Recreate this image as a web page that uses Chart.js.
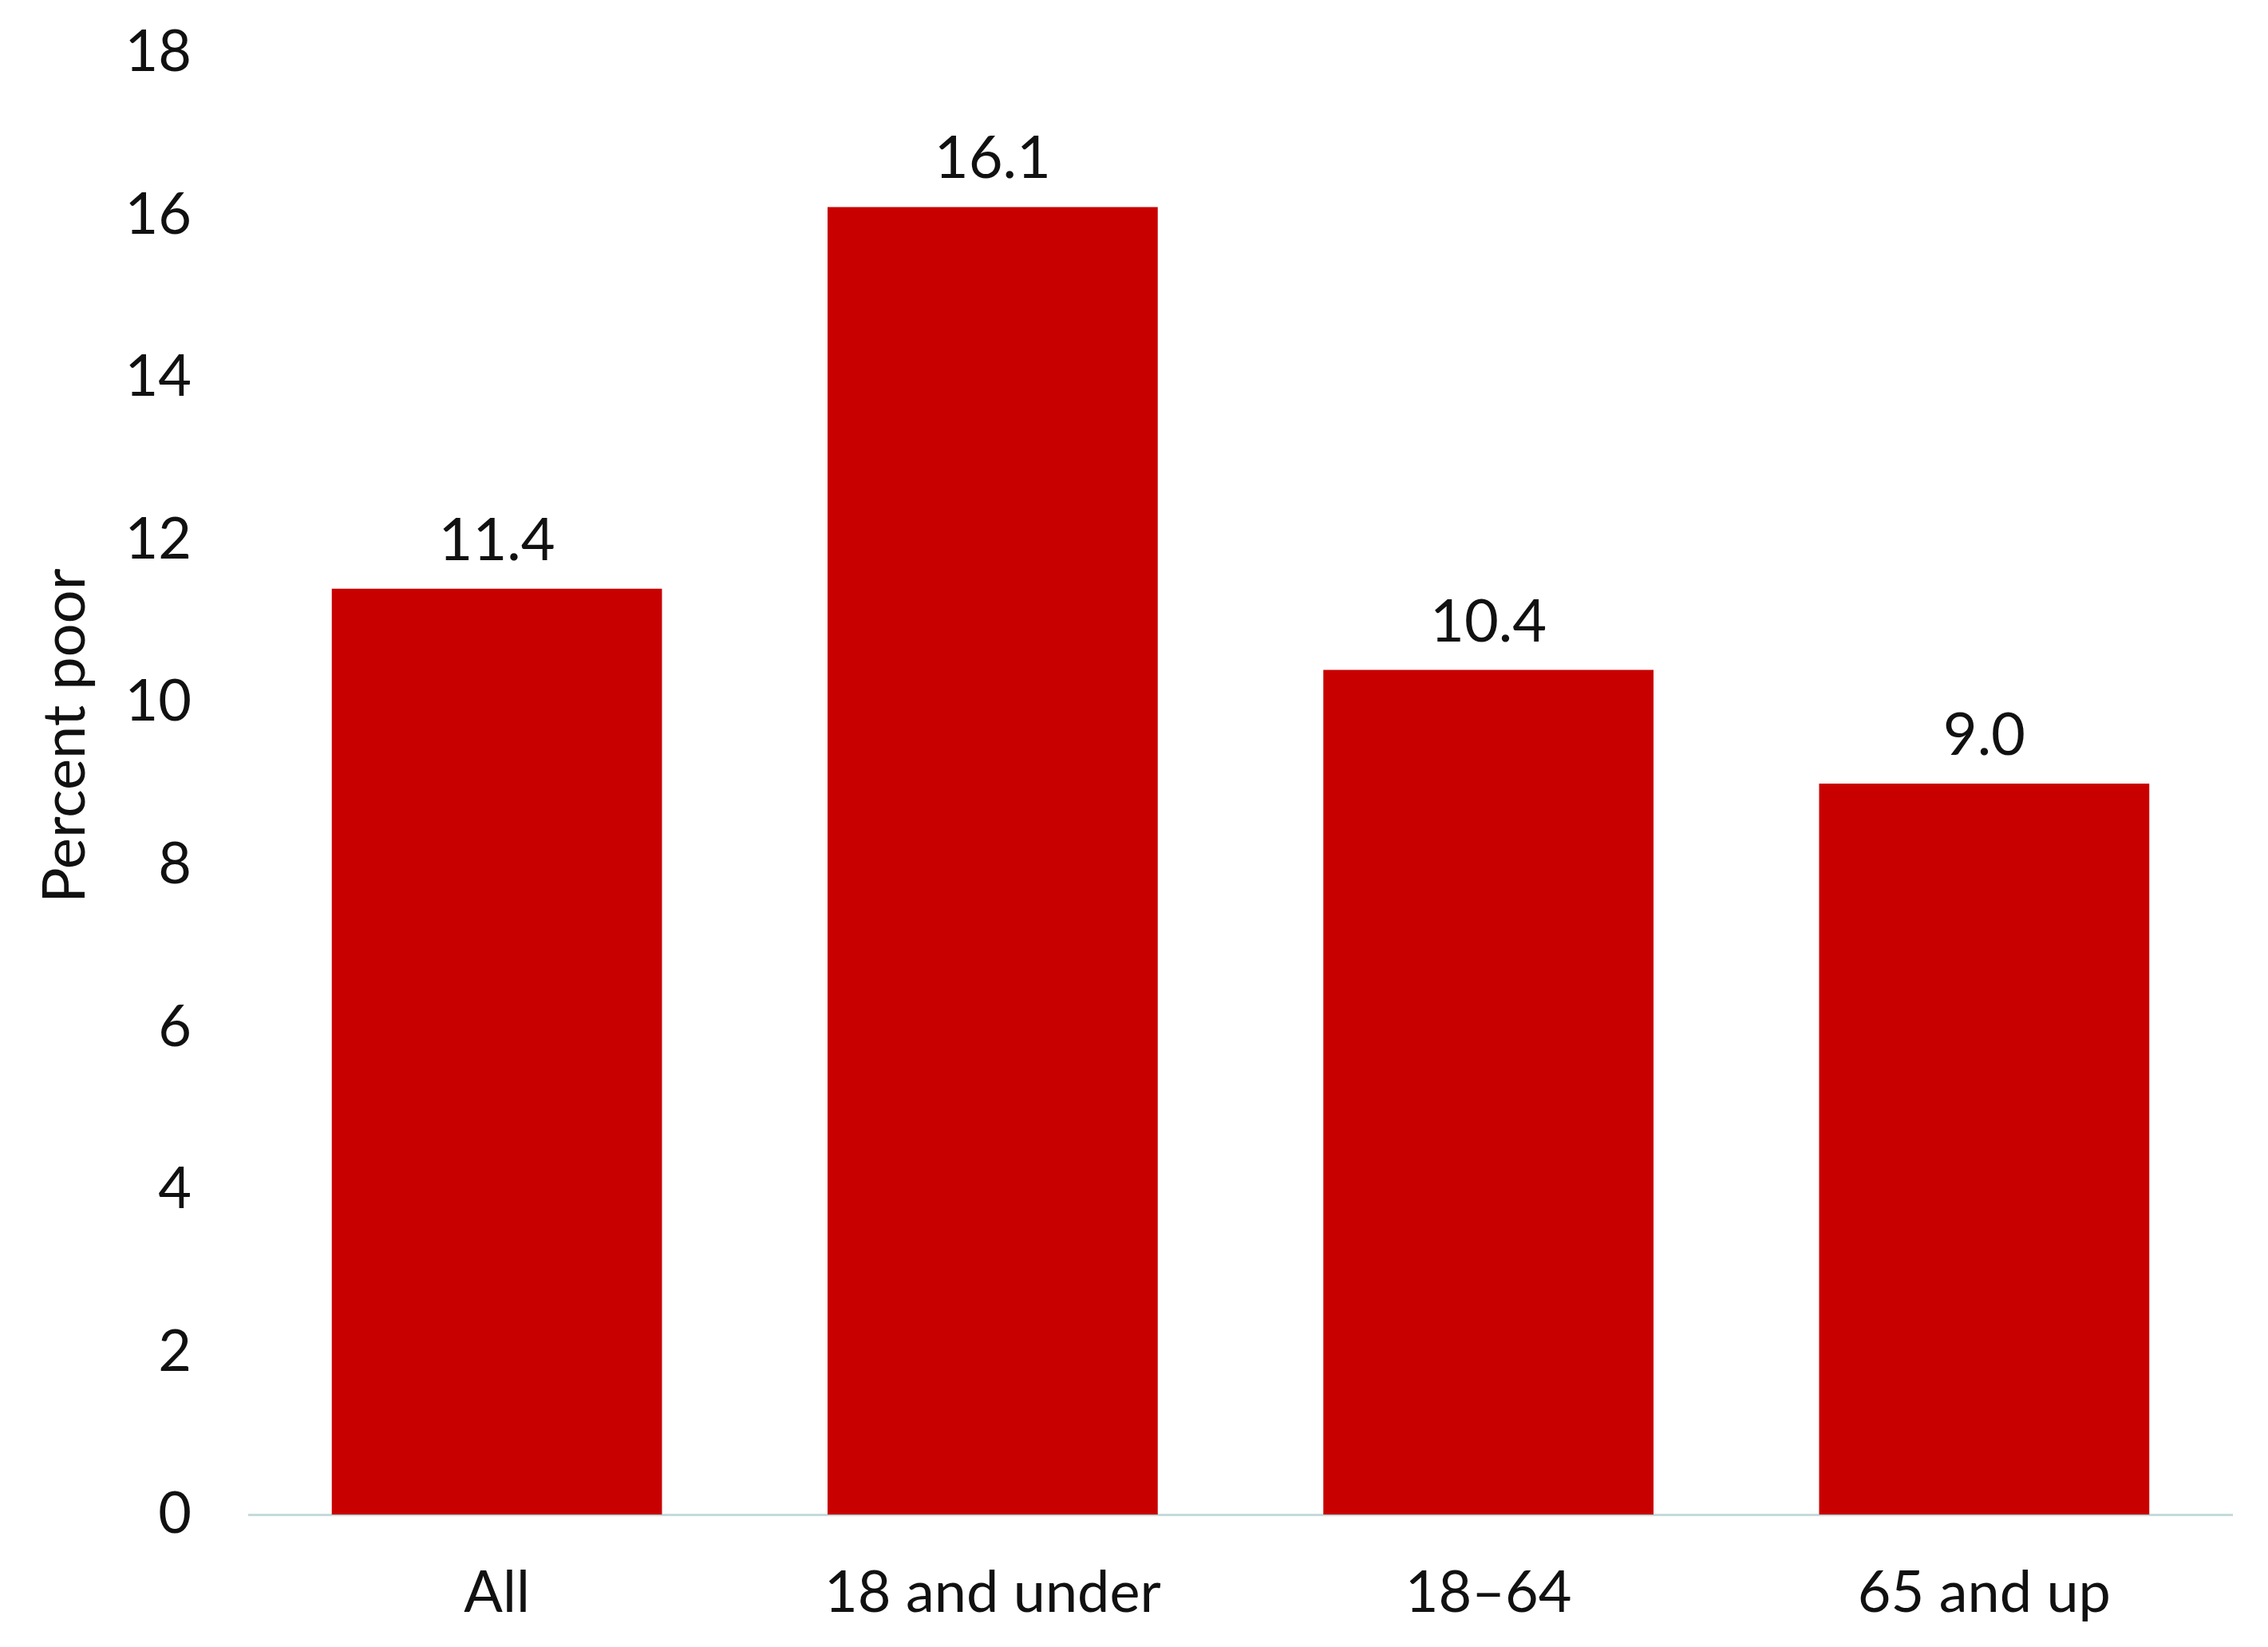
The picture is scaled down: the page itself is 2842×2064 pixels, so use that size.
<!DOCTYPE html>
<html>
<head>
<meta charset="utf-8">
<script src="https://cdn.jsdelivr.net/npm/chart.js@4"></script>
<style>
  html, body { margin: 0; padding: 0; background: #ffffff; }
  #wrap { width: 2842px; height: 2064px; }
</style>
</head>
<body>
<div id="wrap"><canvas id="chart" width="2842" height="2064"></canvas></div>
<script>
const categories = ['All', '18 and under', '18\u201364', '65 and up'];
const percentPoor = [11.4, 16.1, 10.4, 9.0];
const yTicks = [0, 2, 4, 6, 8, 10, 12, 14, 16, 18];
const yTitle = 'Percent poor';

const FONT = 'Lato, "Open Sans", sans-serif';
const INK = '#111111';

// values above the bars, plus the y title (drawn by hand so it can sit a bit above centre)
const barValueLabels = {
  id: 'barValueLabels',
  afterDatasetsDraw(chart) {
    const ctx = chart.ctx;
    const meta = chart.getDatasetMeta(0);
    ctx.save();
    ctx.font = '74px ' + FONT;
    ctx.fillStyle = INK;
    ctx.textAlign = 'center';
    ctx.textBaseline = 'alphabetic';
    meta.data.forEach((bar, i) => {
      ctx.fillText(percentPoor[i].toFixed(1), bar.x, bar.y - 36);
    });

    const area = chart.chartArea;
    ctx.translate(82, (area.top + area.bottom) / 2 - 60);
    ctx.rotate(-Math.PI / 2);
    ctx.font = '74px ' + FONT;
    ctx.textBaseline = 'middle';
    ctx.fillText(yTitle, 0, 0);
    ctx.restore();
  }
};

new Chart(document.getElementById('chart'), {
  type: 'bar',
  data: {
    labels: categories,
    datasets: [{
      data: percentPoor,
      backgroundColor: '#c80000',
      borderWidth: 0,
      categoryPercentage: 1,
      barPercentage: 0.666
    }]
  },
  options: {
    responsive: false,
    animation: false,
    devicePixelRatio: 1,
    layout: { padding: { top: 66, right: 45, bottom: 25, left: 0 } },
    plugins: { legend: { display: false }, tooltip: { enabled: false } },
    scales: {
      x: {
        grid: { display: false },
        border: { display: true, color: '#c4dbdb', width: 3 },
        ticks: { color: INK, font: { family: FONT, size: 72 }, padding: 48, maxRotation: 0 },
        afterFit(scale) { scale.height = 141; }
      },
      y: {
        min: 0,
        max: 18,
        afterBuildTicks(scale) { scale.ticks = yTicks.map((v) => ({ value: v })); },
        afterFit(scale) {
          scale.width = 312;
          scale.paddingTop = 40;
          scale.paddingBottom = 40;
        },
        grid: { display: false },
        border: { display: false },
        ticks: { color: INK, font: { family: FONT, size: 72 }, padding: 64 }
      }
    }
  },
  plugins: [barValueLabels]
});
</script>
</body>
</html>
